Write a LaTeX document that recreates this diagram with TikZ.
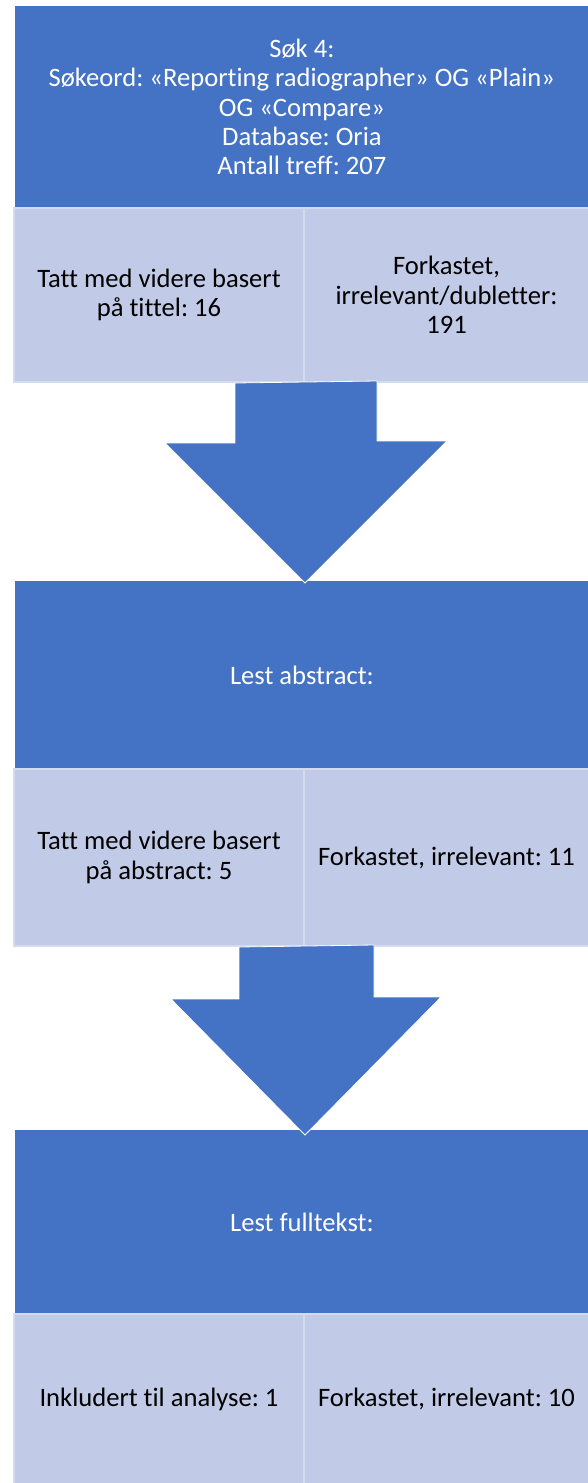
\documentclass[tikz,border=0pt]{standalone}
\usepackage{fontspec}
\setmainfont{Carlito}[Ligatures=CommonOff]
\frenchspacing
\usetikzlibrary{calc}
\definecolor{darkbox}{HTML}{4472C4}
\definecolor{litebox}{HTML}{C1CAE6}
\definecolor{liteline}{HTML}{D4DBEF}

\begin{document}
\begin{tikzpicture}[x=0.5pt,y=-0.5pt,
  dark/.style={fill=darkbox,text=white,anchor=north west,inner sep=0pt,minimum width=286.5pt,align=center,font=\fontsize{13.3}{14.6}\selectfont},
  lite/.style={fill=litebox,draw=liteline,line width=1pt,anchor=north west,inner sep=0pt,align=center,font=\fontsize{13.3}{14.8}\selectfont},
  blockarrow/.style={fill=darkbox,draw=white,line width=0.4pt}]
  \useasboundingbox (0,0) rectangle (588,1483);

  \node[dark,minimum height=100.5pt] (d1) at (15,6) {Søk 4:\\Søkeord: «Reporting radiographer» OG «Plain»\\OG «Compare»\\Database: Oria\\Antall treff: 207};
  \node[lite,minimum width=145pt,minimum height=87pt] (l1) at (13,207) {Tatt med videre basert\\på tittel: 16};
  \node[lite,minimum width=142.5pt,minimum height=87pt] (r1) at (303,207) {Forkastet,\\irrelevant/dubletter:\\191};

  \node[dark,minimum height=93.5pt] (d2) at (15,581) {Lest abstract:};
  \node[lite,minimum width=145pt,minimum height=88.5pt] (l2) at (13,768) {Tatt med videre basert\\på abstract: 5};
  \node[lite,minimum width=142.5pt,minimum height=88.5pt] (r2) at (303,768) {Forkastet, irrelevant: 11};

  \node[dark,minimum height=91.5pt] (d3) at (15,1130) {Lest fulltekst:};
  \node[lite,minimum width=145pt,minimum height=85pt] (l3) at (13,1313) {Inkludert til analyse: 1};
  \node[lite,minimum width=142.5pt,minimum height=85pt] (r3) at (303,1313) {Forkastet, irrelevant: 10};

  \draw[blockarrow] ($(l1.south east)+(-70,0)$) -- ++(0,60) -- ++(-70,0) -- ($(l1.south east |- d2.north)+(0,2)$) -- ++(142,-142) -- ++(-70,0) -- ++(0,-60) -- cycle;
  \draw[blockarrow] ($(l2.south east)+(-66,0)$) -- ++(0,52) -- ++(-68,0) -- ($(l2.south east |- d3.north)+(0,5)$) -- ++(136,-138) -- ++(-67,0) -- ++(0,-52) -- cycle;
\end{tikzpicture}
\end{document}
